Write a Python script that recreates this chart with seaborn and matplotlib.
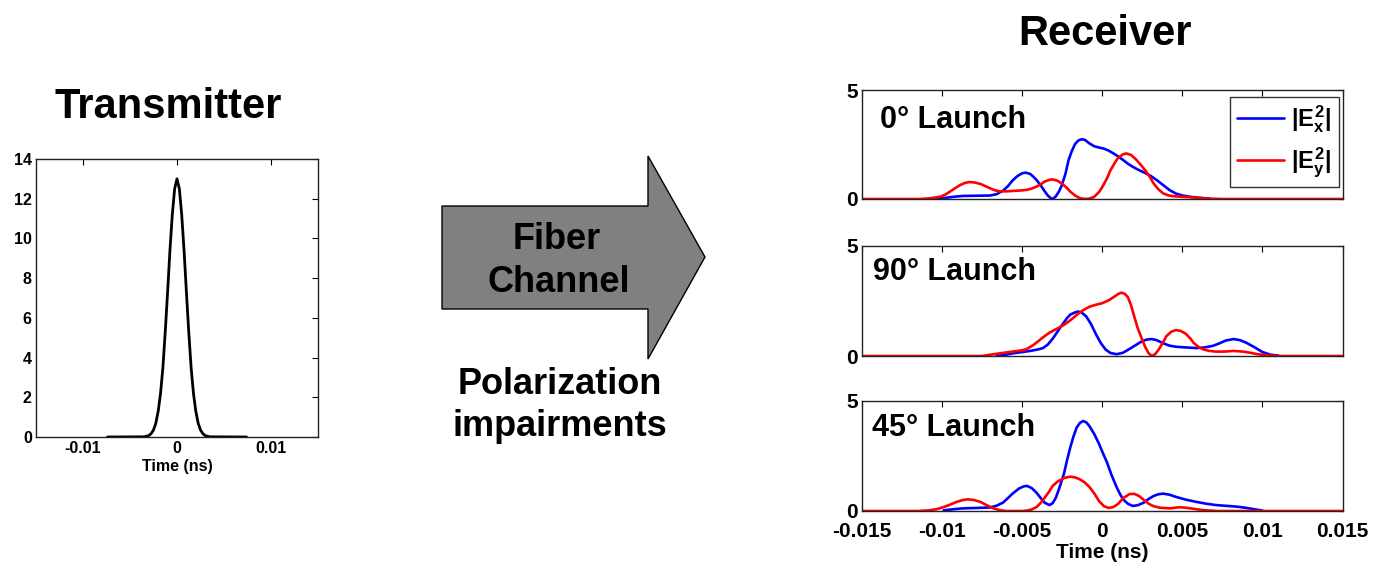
import numpy as np
import pandas as pd
import matplotlib
matplotlib.use("Agg")
import matplotlib.pyplot as plt
from matplotlib.patches import Polygon
import seaborn as sns

# ---------------- data ----------------
# Transmitted pulse |E|^2 versus time (ns)
tx_time = [-0.0074, -0.0035, -0.003, -0.00275, -0.0025, -0.00225, -0.002, -0.00175,
           -0.0015, -0.00125, -0.001, -0.00075, -0.0005, -0.00025, 0.0,
           0.00025, 0.0005, 0.00075, 0.001, 0.00125, 0.0015, 0.00175, 0.002,
           0.00225, 0.0025, 0.00275, 0.003, 0.0035, 0.0074]
tx_power = [0.0, 0.01, 0.07, 0.17, 0.35, 0.7, 1.3, 2.2,
            3.5, 5.3, 7.3, 9.4, 11.2, 12.5, 13.0,
            12.5, 11.2, 9.4, 7.3, 5.3, 3.5, 2.2, 1.3,
            0.7, 0.35, 0.17, 0.07, 0.01, 0.0]

# Received |Ex|^2 and |Ey|^2, 0 degree launch
t0_x = [-0.0108, -0.0099, -0.0093, -0.0087, -0.0078, -0.0070, -0.0066, -0.0062, -0.0059,
        -0.0056, -0.0053, -0.0050, -0.00477, -0.0045, -0.0043, -0.0041, -0.0038, -0.0036,
        -0.0034, -0.0032, -0.0031, -0.0029, -0.0027, -0.00254, -0.0023, -0.0021, -0.0019,
        -0.0017, -0.0015, -0.0013, -0.0011, -0.0008, -0.0005, -0.0002, 0.0001, 0.0004,
        0.0007, 0.0010, 0.0013, 0.0016, 0.0019, 0.0022, 0.0026, 0.0030, 0.0034,
        0.0038, 0.0042, 0.0046, 0.0050, 0.0055, 0.0060, 0.0067]
p0_x = [0.0, 0.04, 0.1, 0.14, 0.15, 0.16, 0.22, 0.38, 0.58,
        0.85, 1.05, 1.18, 1.21, 1.15, 1.02, 0.87, 0.58, 0.36,
        0.16, 0.03, 0.0, 0.12, 0.35, 0.6, 1.15, 1.79, 2.2,
        2.52, 2.68, 2.74, 2.72, 2.55, 2.42, 2.36, 2.31, 2.22,
        2.09, 1.95, 1.79, 1.62, 1.48, 1.36, 1.22, 1.07, 0.87,
        0.64, 0.41, 0.25, 0.16, 0.1, 0.06, 0.02]
t0_y = [-0.015, -0.0114, -0.0108, -0.0104, -0.0101, -0.0098, -0.0095, -0.0092, -0.0089,
        -0.0086, -0.0083, -0.0080, -0.0076, -0.0073, -0.0070, -0.0067, -0.0064, -0.0060,
        -0.0056, -0.0051, -0.0047, -0.0044, -0.0041, -0.0038, -0.0036, -0.0033, -0.0031,
        -0.0028, -0.0025, -0.0022, -0.0020, -0.0017, -0.0014, -0.0011, -0.0008, -0.0005,
        -0.0002, 0.0, 0.0003, 0.0005, 0.0008, 0.0010, 0.0013, 0.0015, 0.0018,
        0.0021, 0.0024, 0.0027, 0.0030, 0.0032, 0.0035, 0.0038, 0.0041, 0.0044,
        0.0050, 0.0055, 0.0060, 0.0065, 0.0075, 0.015]
p0_y = [0.0, 0.0, 0.03, 0.07, 0.11, 0.2, 0.34, 0.49, 0.63,
        0.73, 0.78, 0.76, 0.69, 0.59, 0.49, 0.4, 0.35, 0.35,
        0.37, 0.39, 0.42, 0.48, 0.57, 0.69, 0.8, 0.88, 0.9,
        0.84, 0.7, 0.5, 0.34, 0.16, 0.04, 0.0, 0.02, 0.1,
        0.32, 0.55, 0.95, 1.3, 1.68, 1.9, 2.05, 2.09, 2.02,
        1.82, 1.57, 1.3, 0.98, 0.72, 0.45, 0.26, 0.17, 0.13,
        0.1, 0.08, 0.05, 0.02, 0.0, 0.0]

# 90 degree launch
t90_x = [-0.0066, -0.0060, -0.0056, -0.0050, -0.0045, -0.0040, -0.0037, -0.0034, -0.0031,
         -0.0028, -0.0025, -0.0022, -0.0020, -0.0017, -0.0015, -0.0013, -0.0010, -0.0007,
         -0.0004, -0.0001, 0.0002, 0.0005, 0.0009, 0.0013, 0.0017, 0.0021, 0.0025,
         0.0028, 0.0031, 0.0034, 0.0038, 0.0042, 0.0046, 0.0052, 0.0059, 0.0064,
         0.0069, 0.0073, 0.0077, 0.0082, 0.0086, 0.0090, 0.0095, 0.0100, 0.0105, 0.0110]
p90_x = [0.0, 0.06, 0.12, 0.18, 0.23, 0.3, 0.36, 0.52, 0.78,
         1.1, 1.42, 1.72, 1.88, 1.98, 2.02, 1.98, 1.8, 1.45,
         1.0, 0.6, 0.3, 0.14, 0.08, 0.15, 0.32, 0.5, 0.68,
         0.75, 0.77, 0.72, 0.58, 0.47, 0.42, 0.39, 0.36, 0.39,
         0.46, 0.57, 0.7, 0.77, 0.72, 0.6, 0.4, 0.18, 0.06, 0.02]
t90_y = [-0.015, -0.0075, -0.0068, -0.0062, -0.0056, -0.0050, -0.0047, -0.0043, -0.0039,
         -0.0036, -0.0033, -0.0028, -0.0024, -0.0020, -0.0016, -0.0012, -0.0008, -0.0004,
         0.0, 0.0004, 0.0007, 0.0010, 0.0012, 0.0014, 0.0016, 0.0018, 0.0020,
         0.0022, 0.0025, 0.0027, 0.0029, 0.0031, 0.0033, 0.0035, 0.0038, 0.0040,
         0.0043, 0.0046, 0.0049, 0.0052, 0.0055, 0.0057, 0.0060, 0.0063, 0.0067,
         0.0071, 0.0076, 0.0082, 0.0088, 0.0093, 0.0097, 0.0105, 0.0110, 0.015]
p90_y = [0.0, 0.0, 0.08, 0.14, 0.2, 0.26, 0.32, 0.5, 0.73,
         0.9, 1.06, 1.25, 1.41, 1.62, 1.86, 2.08, 2.24, 2.33,
         2.4, 2.53, 2.67, 2.82, 2.88, 2.83, 2.68, 2.3, 1.79,
         1.3, 0.73, 0.38, 0.12, 0.0, 0.08, 0.27, 0.62, 0.9,
         1.1, 1.18, 1.14, 1.02, 0.8, 0.6, 0.42, 0.3, 0.23,
         0.2, 0.2, 0.23, 0.2, 0.14, 0.08, 0.02, 0.0, 0.0]

# 45 degree launch
t45_x = [-0.0099, -0.0093, -0.0087, -0.0078, -0.0070, -0.0066, -0.0062, -0.0059, -0.0056,
         -0.0052, -0.0049, -0.0047, -0.0044, -0.0041, -0.0038, -0.0036, -0.0033, -0.0031,
         -0.0029, -0.0027, -0.0024, -0.0022, -0.0020, -0.0018, -0.0016, -0.0014, -0.0012,
         -0.0010, -0.0008, -0.0005, -0.0002, 0.0, 0.0003, 0.0006, 0.0009, 0.0011,
         0.0013, 0.0016, 0.0019, 0.0022, 0.0026, 0.0029, 0.0032, 0.0035, 0.0038,
         0.0042, 0.0046, 0.0052, 0.0059, 0.0065, 0.0071, 0.0080, 0.0085, 0.0090,
         0.0095, 0.0100]
p45_x = [0.03, 0.08, 0.12, 0.14, 0.16, 0.24, 0.38, 0.58, 0.79,
         1.02, 1.12, 1.14, 1.04, 0.83, 0.55, 0.38, 0.27, 0.35,
         0.6, 1.0, 1.67, 2.3, 2.88, 3.38, 3.79, 4.0, 4.09,
         4.03, 3.86, 3.5, 3.05, 2.7, 2.2, 1.6, 1.08, 0.78,
         0.53, 0.33, 0.23, 0.26, 0.38, 0.55, 0.68, 0.76, 0.79,
         0.74, 0.64, 0.52, 0.41, 0.33, 0.27, 0.22, 0.19, 0.14,
         0.08, 0.02]
t45_y = [-0.015, -0.0115, -0.0108, -0.0103, -0.0099, -0.0095, -0.0091, -0.0087, -0.0084,
         -0.0080, -0.0076, -0.0072, -0.0068, -0.0064, -0.0060, -0.0050, -0.0047, -0.0044,
         -0.0041, -0.0038, -0.0036, -0.0033, -0.0031, -0.0028, -0.0024, -0.0020, -0.0017,
         -0.0014, -0.0011, -0.0008, -0.0005, -0.0002, 0.0001, 0.0004, 0.0007, 0.0010,
         0.0013, 0.0017, 0.0020, 0.0023, 0.0026, 0.0029, 0.0032, 0.0036, 0.0042,
         0.0048, 0.0052, 0.0056, 0.0063, 0.0072, 0.015]
p45_y = [0.0, 0.0, 0.03, 0.09, 0.18, 0.29, 0.41, 0.5, 0.53,
         0.5, 0.41, 0.26, 0.12, 0.04, 0.0, 0.0, 0.02, 0.07,
         0.18, 0.4, 0.6, 0.9, 1.14, 1.33, 1.5, 1.56, 1.53,
         1.44, 1.3, 1.09, 0.8, 0.45, 0.22, 0.14, 0.18, 0.33,
         0.58, 0.77, 0.78, 0.68, 0.5, 0.33, 0.22, 0.15, 0.12,
         0.17, 0.15, 0.11, 0.04, 0.0, 0.0]

panel_titles = ["0\u00b0 Launch", "90\u00b0 Launch", "45\u00b0 Launch"]
panels = [(t0_x, p0_x, t0_y, p0_y), (t90_x, p90_x, t90_y, p90_y), (t45_x, p45_x, t45_y, p45_y)]
legend_labels = [r"$|E_x^2|$", r"$|E_y^2|$"]

tx_xticks = [-0.01, 0, 0.01]
tx_xticklabels = ["-0.01", "0", "0.01"]
tx_yticks = [0, 2, 4, 6, 8, 10, 12, 14]
rx_xticks = [-0.015, -0.01, -0.005, 0, 0.005, 0.01, 0.015]
rx_xticklabels = ["-0.015", "-0.01", "-0.005", "0", "0.005", "0.01", "0.015"]
rx_yticks = [0, 5]

# ---------------- style ----------------
sns.set_style("white")
plt.rcParams["font.family"] = ["Liberation Sans", "DejaVu Sans"]
plt.rcParams["font.weight"] = "bold"
plt.rcParams["text.color"] = "black"
plt.rcParams["axes.labelcolor"] = "black"
plt.rcParams["xtick.color"] = "black"
plt.rcParams["ytick.color"] = "black"
plt.rcParams["mathtext.fontset"] = "custom"
plt.rcParams["mathtext.rm"] = "Liberation Sans:bold"
plt.rcParams["mathtext.it"] = "Liberation Sans:bold"
plt.rcParams["mathtext.bf"] = "Liberation Sans:bold"

W, H = 1373, 562
fig = plt.figure(figsize=(W / 100, H / 100), dpi=100)


def frac(x0, y0, x1, y1):
    """Pixel box (left, top, right, bottom) -> figure-fraction rect."""
    return [x0 / W, 1 - y1 / H, (x1 - x0) / W, (y1 - y0) / H]


def style_box(ax, fs):
    for s in ax.spines.values():
        s.set_color("#222222")
        s.set_linewidth(1.0)
        s.set_visible(True)
    ax.tick_params(direction="in", top=True, right=True, length=4,
                   width=0.8, colors="black", labelsize=fs, pad=3)


# ---------------- transmitter ----------------
ax_tx = fig.add_axes(frac(36, 159, 318, 437))
tx_df = pd.DataFrame({"t": tx_time, "p": tx_power})
sns.lineplot(data=tx_df, x="t", y="p", ax=ax_tx, color="black", linewidth=2.0,
             estimator=None, errorbar=None, sort=False)
ax_tx.set_xlim(-0.015, 0.015)
ax_tx.set_ylim(0, 14)
ax_tx.set_xticks(tx_xticks)
ax_tx.set_xticklabels(tx_xticklabels)
ax_tx.set_yticks(tx_yticks)
ax_tx.set_xlabel("Time (ns)", fontsize=11.5, fontweight="bold", labelpad=2)
ax_tx.set_ylabel("")
style_box(ax_tx, 11.5)
for lab in ax_tx.get_xticklabels() + ax_tx.get_yticklabels():
    lab.set_fontweight("bold")

fig.text(168 / W, 1 - 118 / H, "Transmitter", fontsize=30, fontweight="bold",
         ha="center", va="baseline")

# ---------------- fiber channel arrow ----------------
arrow_px = [(442, 206), (648, 206), (648, 156), (705, 257), (648, 359),
            (648, 309), (442, 309)]
arrow = Polygon([(x / W, 1 - y / H) for x, y in arrow_px], closed=True,
                transform=fig.transFigure, facecolor="#808080",
                edgecolor="black", linewidth=1.0)
fig.add_artist(arrow)
fig.text(557 / W, 1 - 249 / H, "Fiber", fontsize=26, fontweight="bold",
         ha="center", va="baseline")
fig.text(559 / W, 1 - 292 / H, "Channel", fontsize=26, fontweight="bold",
         ha="center", va="baseline")
fig.text(560 / W, 1 - 394 / H, "Polarization", fontsize=26, fontweight="bold",
         ha="center", va="baseline")
fig.text(560 / W, 1 - 436 / H, "impairments", fontsize=26, fontweight="bold",
         ha="center", va="baseline")

# ---------------- receiver ----------------
fig.text(1105 / W, 1 - 45 / H, "Receiver", fontsize=30, fontweight="bold",
         ha="center", va="baseline")

rx_boxes = [(862, 90, 1342.5, 199), (862, 246, 1342.5, 356), (862, 401, 1342.5, 511)]
title_pos = [(0.037, 0.65), (0.023, 0.69), (0.02, 0.68)]

for i, ((tx_, px_, ty_, py_), box) in enumerate(zip(panels, rx_boxes)):
    ax = fig.add_axes(frac(*box))
    df = pd.concat([
        pd.DataFrame({"t": tx_, "p": px_, "comp": "x"}),
        pd.DataFrame({"t": ty_, "p": py_, "comp": "y"}),
    ])
    sns.lineplot(data=df, x="t", y="p", hue="comp", hue_order=["x", "y"],
                 palette={"x": "#0000FF", "y": "#FF0000"}, ax=ax,
                 linewidth=1.9, estimator=None, errorbar=None, legend=False)
    ax.set_xlim(-0.015, 0.015)
    ax.set_ylim(0, 5)
    ax.set_yticks(rx_yticks)
    ax.set_xticks(rx_xticks)
    ax.set_ylabel("")
    style_box(ax, 15)
    if i < 2:
        ax.set_xticklabels([])
        ax.set_xlabel("")
    else:
        ax.set_xticklabels(rx_xticklabels)
        ax.tick_params(axis="x", pad=8)
        ax.set_xlabel("Time (ns)", fontsize=15, fontweight="bold", labelpad=1)
    for lab in ax.get_xticklabels() + ax.get_yticklabels():
        lab.set_fontweight("bold")
    ax.text(title_pos[i][0], title_pos[i][1], panel_titles[i], transform=ax.transAxes,
            fontsize=22, fontweight="bold", ha="left", va="baseline")
    if i == 0:
        leg = ax.legend(handles=ax.get_lines()[:2], labels=legend_labels,
                        loc="upper right", bbox_to_anchor=(0.993, 0.94),
                        borderaxespad=0, fontsize=17, frameon=True, fancybox=False,
                        handlelength=2.0, handletextpad=0.3, labelspacing=0.45,
                        borderpad=0.3)
        leg.get_frame().set_edgecolor("black")
        leg.get_frame().set_linewidth(1.0)

fig.savefig("out.png", dpi=100)
